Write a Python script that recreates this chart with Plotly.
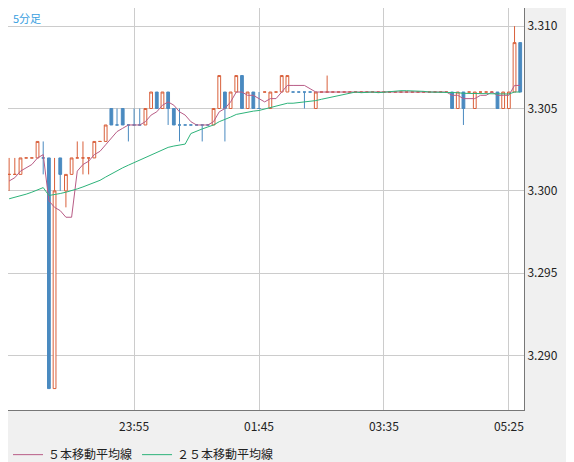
import plotly.graph_objects as go
import pandas as pd

start = "2024-01-01 22:05"
# OHLC per 5-minute bar
opens  = [3.301,3.301,3.301,3.302,3.302,3.302,3.302,3.302,3.288,3.302,3.300,3.301,3.302,3.302,3.302,3.302,3.303,3.303,3.305,3.304,3.305,3.304,3.304,3.304,3.304,3.305,3.306,3.305,3.306,3.305,3.304,3.304,3.304,3.304,3.304,3.304,3.304,3.305,3.306,3.305,3.306,3.307,3.305,3.306,3.305,3.306,3.305,3.306,3.306,3.306,3.306,3.306,3.306,3.306,3.305,3.306,3.306,3.306,3.306,3.306,3.306,3.306,3.306,3.306,3.306,3.306,3.306,3.306,3.306,3.306,3.306,3.306,3.306,3.306,3.306,3.306,3.306,3.306,3.306,3.305,3.306,3.306,3.305,3.306,3.306,3.306,3.306,3.305,3.305,3.306,3.309]
highs  = [3.302,3.302,3.302,3.302,3.302,3.303,3.303,3.302,3.302,3.302,3.301,3.302,3.303,3.303,3.302,3.303,3.303,3.304,3.305,3.305,3.305,3.304,3.305,3.305,3.305,3.306,3.306,3.306,3.306,3.305,3.305,3.304,3.304,3.304,3.304,3.304,3.305,3.307,3.306,3.306,3.307,3.307,3.306,3.306,3.306,3.306,3.306,3.306,3.307,3.307,3.306,3.306,3.306,3.306,3.306,3.306,3.307,3.306,3.306,3.306,3.306,3.306,3.306,3.306,3.306,3.306,3.306,3.306,3.306,3.306,3.306,3.306,3.306,3.306,3.306,3.306,3.306,3.306,3.306,3.306,3.306,3.306,3.306,3.306,3.306,3.306,3.306,3.306,3.306,3.310,3.309]
lows   = [3.300,3.301,3.301,3.302,3.302,3.302,3.301,3.288,3.288,3.300,3.299,3.301,3.302,3.301,3.301,3.302,3.303,3.303,3.304,3.304,3.304,3.303,3.304,3.304,3.304,3.305,3.305,3.305,3.304,3.304,3.303,3.304,3.304,3.304,3.303,3.304,3.304,3.305,3.303,3.305,3.306,3.305,3.305,3.305,3.305,3.306,3.305,3.306,3.306,3.306,3.306,3.306,3.305,3.306,3.305,3.306,3.306,3.306,3.306,3.306,3.306,3.306,3.306,3.306,3.306,3.306,3.306,3.306,3.306,3.306,3.306,3.306,3.306,3.306,3.306,3.306,3.306,3.306,3.305,3.305,3.304,3.306,3.305,3.306,3.306,3.306,3.305,3.305,3.305,3.306,3.306]
closes = [3.301,3.301,3.302,3.302,3.302,3.303,3.302,3.288,3.300,3.301,3.301,3.302,3.302,3.302,3.302,3.303,3.303,3.304,3.304,3.304,3.304,3.304,3.304,3.304,3.305,3.306,3.305,3.306,3.305,3.304,3.304,3.304,3.304,3.304,3.304,3.304,3.305,3.307,3.305,3.306,3.307,3.305,3.306,3.305,3.305,3.306,3.306,3.306,3.307,3.307,3.306,3.306,3.306,3.306,3.306,3.306,3.306,3.306,3.306,3.306,3.306,3.306,3.306,3.306,3.306,3.306,3.306,3.306,3.306,3.306,3.306,3.306,3.306,3.306,3.306,3.306,3.306,3.306,3.305,3.306,3.305,3.306,3.306,3.306,3.306,3.306,3.305,3.306,3.306,3.309,3.306]
# closes before the visible window (for moving averages)
prior_closes = [3.299,3.299,3.300,3.299,3.299,3.299,3.300,3.299,3.299,3.299,3.300,3.299,3.299,3.299,3.299,3.300,3.299,3.299,3.299,3.300,3.300,3.300,3.301,3.301]
tick_labels = ["23:55", "01:45", "03:35", "05:25"]

times = pd.date_range(start, periods=len(closes), freq="5min")
allc = pd.Series(prior_closes + closes)
n0 = len(prior_closes)
ma5 = allc.rolling(5).mean().iloc[n0:].values
ma25 = allc.rolling(25, min_periods=1).mean().iloc[n0:].values

fig = go.Figure()
fig.add_trace(go.Candlestick(x=times, open=opens, high=highs, low=lows, close=closes,
    increasing=dict(line=dict(color="#d9603b", width=1), fillcolor="white"),
    decreasing=dict(line=dict(color="#4a8ac0", width=1), fillcolor="#4a8ac0"),
    whiskerwidth=0, showlegend=False, hoverinfo="skip"))
fig.add_trace(go.Scatter(x=times, y=ma5, mode="lines", line=dict(color="#b85c86", width=1),
    name="５本移動平均線"))
fig.add_trace(go.Scatter(x=times, y=ma25, mode="lines", line=dict(color="#2db37a", width=1),
    name="２５本移動平均線"))

tickvals = [pd.Timestamp(d) for d in ["2024-01-01 23:55", "2024-01-02 01:45", "2024-01-02 03:35", "2024-01-02 05:25"]]
fig.update_layout(
    width=574, height=462, margin=dict(l=0, r=58, t=0, b=60),
    paper_bgcolor="#f0f0f0", plot_bgcolor="white",
    font=dict(family="Noto Sans CJK JP", size=12, color="#222"),
    legend=dict(orientation="h", x=0, y=-0.075, xanchor="left", yanchor="top",
                bgcolor="rgba(0,0,0,0)", font=dict(size=12)),
    xaxis=dict(type="date", rangeslider=dict(visible=False),
               range=[pd.Timestamp("2024-01-01 22:04:00"), pd.Timestamp("2024-01-02 05:38:20")],
               tickvals=tickvals, ticktext=tick_labels, showgrid=True, gridcolor="#cccccc",
               showline=True, linecolor="#777", mirror=True, ticks="", tickfont=dict(size=12),
               ticklabelstandoff=6),
    yaxis=dict(side="right", range=[3.2867, 3.3111], tickvals=[3.290,3.295,3.300,3.305,3.310],
               tickformat=".3f", showgrid=True, gridcolor="#cccccc", showline=True,
               linecolor="#777", mirror=True, ticks="", zeroline=False),
    annotations=[dict(text="5分足", x=0.005, y=1, xref="paper", yref="paper",
                      xanchor="left", yanchor="top", showarrow=False,
                      font=dict(size=11, color="#3aa0e0"))],
)
fig.write_html("out.html")
